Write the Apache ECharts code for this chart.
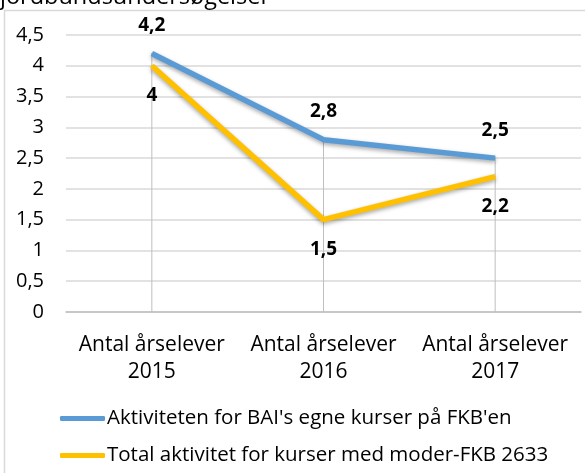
<!DOCTYPE html>
<html>
<head>
<meta charset="utf-8">
<script src="https://cdn.jsdelivr.net/npm/echarts@6/dist/echarts.min.js"></script>
<style>
  html, body { margin: 0; padding: 0; background: #fff; }
  #chart { width: 585px; height: 473px; }
</style>
</head>
<body>
<div id="chart"></div>
<script>
// data
const categories = ['Antal årselever\n2015', 'Antal årselever\n2016', 'Antal årselever\n2017'];
const seriesNames = ["Aktiviteten for BAI's egne kurser på FKB'en", 'Total aktivitet for kurser med moder-FKB 2633'];
const baiValues = [4.2, 2.8, 2.5];
const totalValues = [4.0, 1.5, 2.2];
const yTicks = [0, 0.5, 1, 1.5, 2, 2.5, 3, 3.5, 4, 4.5];

const font = '"Open Sans", "Noto Sans", sans-serif';
const comma = v => String(v).replace('.', ',');

// lodrette linjer fra punkt ned til aksen
const dropValues = baiValues.map((v, i) => Math.max(v, totalValues[i]));

const chart = echarts.init(document.getElementById('chart'));

chart.setOption({
    animation: false,
    textStyle: {fontFamily: font},
    title: {
        text: 'jordbundsundersøgelser',
        left: 0,
        top: -15,
        padding: 0,
        textStyle: {fontFamily: font, fontSize: 23.5, fontWeight: 'normal', color: '#000'}
    },
    graphic: [{
        type: 'rect',
        shape: {x: 4.5, y: 10.5, width: 620, height: 500},
        style: {fill: '#fff', stroke: '#d9d9d9', lineWidth: 1.5},
        silent: true,
        z: 0
    }],
    grid: {left: 66, right: 4, top: 35, bottom: 161},
    legend: {
        data: seriesNames,
        orient: 'vertical',
        left: 55,
        top: 403,
        icon: 'roundRect',
        itemWidth: 45,
        itemHeight: 5,
        itemGap: 16,
        textStyle: {fontFamily: font, fontSize: 20.5, color: '#000', padding: [0, 0, 0, -3]}
    },
    xAxis: {
        type: 'category',
        data: categories,
        axisLine: {lineStyle: {color: '#bfbfbf', width: 1.5}},
        axisTick: {show: false},
        axisLabel: {interval: 0, fontSize: 21, color: '#000', margin: 20, lineHeight: 27, fontFamily: font}
    },
    yAxis: {
        type: 'value',
        min: 0,
        max: yTicks[yTicks.length - 1],
        interval: 0.5,
        axisLine: {show: false},
        axisTick: {show: false},
        splitLine: {lineStyle: {color: '#d9d9d9', width: 1.5}},
        axisLabel: {fontSize: 20, color: '#000', margin: 22, fontFamily: font, formatter: v => comma(v)}
    },
    series: [
        {
            name: 'drop',
            type: 'bar',
            data: dropValues,
            barWidth: 1,
            itemStyle: {color: '#bfbfbf'},
            silent: true,
            z: 1
        },
        {
            name: seriesNames[0],
            type: 'line',
            data: baiValues,
            symbol: 'circle',
            symbolSize: 1,
            showSymbol: true,
            lineStyle: {color: '#5b9bd5', width: 5.5, shadowColor: 'rgba(0,0,0,0.35)', shadowBlur: 4, shadowOffsetY: 2},
            itemStyle: {color: '#5b9bd5'},
            label: {
                show: true, position: 'top', distance: 18,
                fontSize: 19, fontWeight: 'bold', color: '#000', fontFamily: font,
                formatter: p => comma(p.value)
            },
            z: 3
        },
        {
            name: seriesNames[1],
            type: 'line',
            data: totalValues,
            symbol: 'circle',
            symbolSize: 1,
            showSymbol: true,
            lineStyle: {color: '#ffc000', width: 5.5, shadowColor: 'rgba(0,0,0,0.35)', shadowBlur: 4, shadowOffsetY: 2},
            itemStyle: {color: '#ffc000'},
            label: {
                show: true, position: 'bottom', distance: 20,
                fontSize: 19, fontWeight: 'bold', color: '#000', fontFamily: font,
                formatter: p => comma(p.value)
            },
            z: 2
        }
    ]
});
</script>
</body>
</html>
